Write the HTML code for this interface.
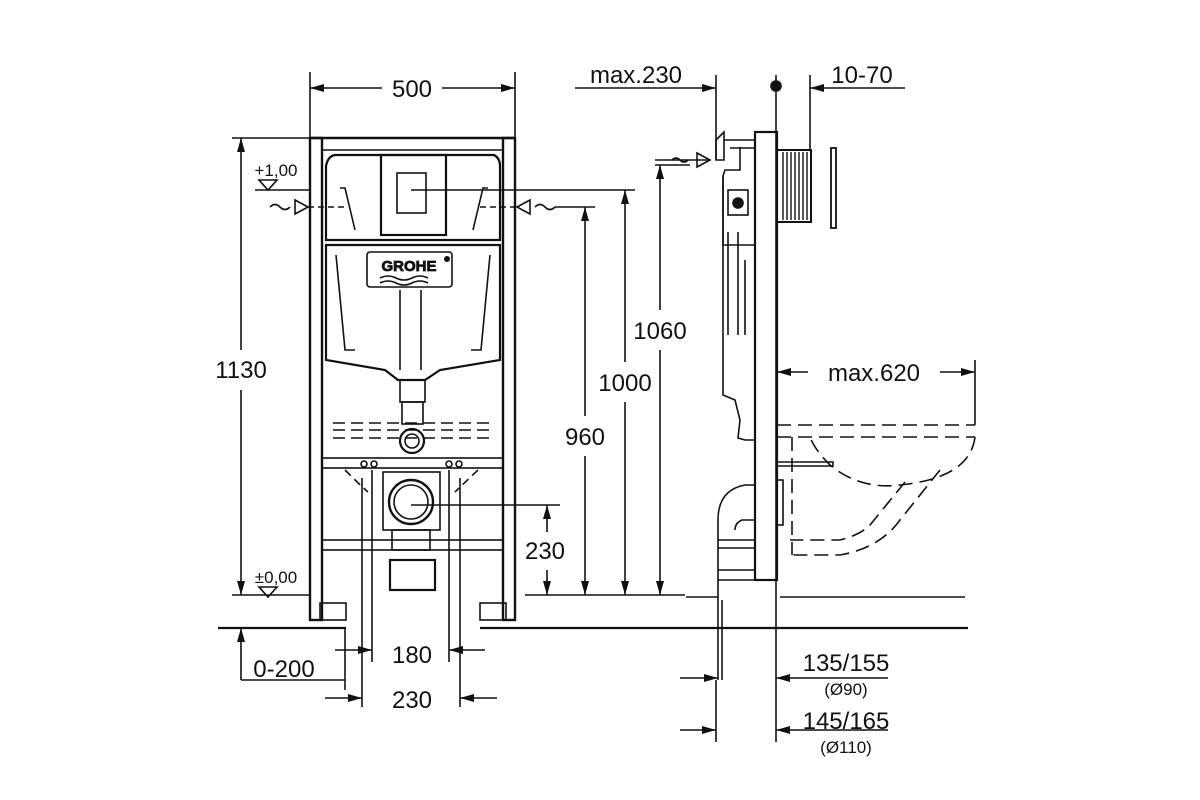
<!DOCTYPE html>
<html><head><meta charset="utf-8"><style>
html,body{margin:0;padding:0;background:#fff}
svg{display:block}
text{font-family:"Liberation Sans",Arial,sans-serif;fill:#111}
</style></head><body>
<svg width="1200" height="800" viewBox="0 0 1200 800" xmlns="http://www.w3.org/2000/svg">
<defs>
<marker id="a" viewBox="0 0 10 10" refX="10" refY="5" markerWidth="14" markerHeight="8" orient="auto-start-reverse" markerUnits="userSpaceOnUse" preserveAspectRatio="none"><path d="M0,0 L10,5 L0,10 z" fill="#111"/></marker>
</defs>
<g stroke="#111" fill="none" stroke-width="1.6">
<rect x="310" y="138" width="12" height="482" stroke-width="2.4"/>
<rect x="503" y="138" width="12" height="482" stroke-width="2.4"/>
<line x1="310" y1="138" x2="515" y2="138" stroke-width="2.4"/>
<line x1="322" y1="150" x2="503" y2="150"/>
<rect x="322" y="458" width="181" height="10"/>
<rect x="322" y="540" width="181" height="10"/>
<rect x="320" y="603" width="26" height="17"/>
<rect x="480" y="603" width="26" height="17"/>
<path d="M335,155 L494,155 Q500,158 500,166 L500,240 L326,240 L326,166 Q328,156 335,155 Z" stroke-width="2.2"/>
<path d="M326,245 L500,245 L500,360 L440,370 L425,380 L398,380 L385,370 L326,360 Z" stroke-width="2.2"/>
<path d="M340,188 L345,188 L355,230 M488,188 L483,188 L473,230"/>
<path d="M336,255 L345,350 L355,350 M490,255 L481,350 L471,350"/>
<path d="M400,290 L400,370 M421,290 L421,370"/>
<rect x="381" y="155" width="65" height="80" stroke-width="2.2"/>
<rect x="397" y="173" width="29" height="40"/>
<line x1="411" y1="190" x2="635" y2="190"/>
<rect x="367" y="252" width="85" height="35" rx="3"/>
<path d="M380,278 q8,-4 16,0 t16,0 t16,0 M380,283 q8,-4 16,0 t16,0 t16,0"/>
<rect x="400" y="380" width="25" height="22"/>
<rect x="402" y="402" width="21" height="22"/>
<circle cx="412" cy="441" r="12" stroke-width="2.2"/>
<circle cx="412" cy="441" r="7"/>
<path d="M333,430 L490,430 M333,438 L490,438 M333,423 L490,423" stroke-dasharray="12,6"/>
<rect x="383" y="472" width="57" height="58"/>
<circle cx="411" cy="502" r="22" stroke-width="2.4"/>
<circle cx="411" cy="502" r="17"/>
<rect x="392" y="530" width="38" height="20"/>
<rect x="390" y="560" width="45" height="30" stroke-width="2.2"/>
<path d="M345,470 Q360,485 368,492 M478,470 Q462,485 455,492" stroke-dasharray="8,5"/>
<circle cx="364" cy="464" r="3"/><circle cx="374" cy="464" r="3"/><circle cx="449" cy="464" r="3"/><circle cx="459" cy="464" r="3"/>
<line x1="310" y1="72" x2="310" y2="137"/><line x1="515" y1="72" x2="515" y2="137"/>
<line x1="310" y1="88" x2="382" y2="88" marker-start="url(#a)"/><line x1="442" y1="88" x2="515" y2="88" marker-end="url(#a)"/>
<line x1="232" y1="138" x2="310" y2="138"/><line x1="232" y1="595" x2="310" y2="595"/>
<line x1="241" y1="138" x2="241" y2="350" marker-start="url(#a)"/><line x1="241" y1="390" x2="241" y2="595" marker-end="url(#a)"/>
<line x1="255" y1="190" x2="310" y2="190"/>
<path d="M259,180 L277,180 L268,190 Z"/>
<path d="M259,587 L277,587 L268,597 Z"/>
<path d="M270,207 q5,-5 10,0 t10,0 M295,200 L308,207 L295,214 Z"/>
<line x1="308" y1="207" x2="345" y2="207" stroke-dasharray="6,4"/>
<path d="M555,207 q-5,5 -10,0 t-10,0 M530,200 L517,207 L530,214 Z"/>
<line x1="480" y1="207" x2="515" y2="207" stroke-dasharray="6,4"/>
<line x1="555" y1="207" x2="595" y2="207"/>
<line x1="655" y1="165" x2="690" y2="165"/>
<line x1="660" y1="165" x2="660" y2="310" marker-start="url(#a)"/><line x1="660" y1="350" x2="660" y2="595" marker-end="url(#a)"/>
<line x1="625" y1="190" x2="625" y2="362" marker-start="url(#a)"/><line x1="625" y1="402" x2="625" y2="595" marker-end="url(#a)"/>
<line x1="585" y1="207" x2="585" y2="416" marker-start="url(#a)"/><line x1="585" y1="456" x2="585" y2="595" marker-end="url(#a)"/>
<line x1="411" y1="505" x2="560" y2="505"/>
<line x1="547" y1="505" x2="547" y2="532" marker-start="url(#a)"/><line x1="547" y1="570" x2="547" y2="595" marker-end="url(#a)"/>
<line x1="525" y1="595" x2="685" y2="595"/>
<line x1="218" y1="628" x2="346" y2="628" stroke-width="2.2"/>
<line x1="480" y1="628" x2="968" y2="628" stroke-width="2.2"/>
<line x1="372" y1="470" x2="372" y2="662"/><line x1="449" y1="470" x2="449" y2="662"/>
<line x1="362" y1="478" x2="362" y2="707"/><line x1="460" y1="478" x2="460" y2="707"/>
<line x1="335" y1="650" x2="372" y2="650" marker-end="url(#a)"/><line x1="449" y1="650" x2="485" y2="650" marker-start="url(#a)"/>
<line x1="325" y1="698" x2="362" y2="698" marker-end="url(#a)"/><line x1="460" y1="698" x2="497" y2="698" marker-start="url(#a)"/>
<line x1="241" y1="680" x2="241" y2="628" marker-end="url(#a)"/>
<line x1="241" y1="680" x2="345" y2="680"/>
<line x1="345" y1="628" x2="345" y2="690"/>
<rect x="755" y="132" width="22" height="448" stroke-width="2.2"/>
<line x1="776" y1="75" x2="776" y2="742"/>
<circle cx="776" cy="86" r="5" fill="#111"/>
<line x1="716" y1="75" x2="716" y2="160"/>
<line x1="575" y1="88" x2="716" y2="88" marker-end="url(#a)"/>
<line x1="810" y1="75" x2="810" y2="150"/>
<line x1="810" y1="88" x2="905" y2="88" marker-start="url(#a)"/>
<rect x="777" y="150" width="34" height="72" stroke-width="2"/>
<path d="M783,152 V220 M787,152 V220 M791,152 V220 M795,152 V220 M799,152 V220 M803,152 V220 M807,152 V220" stroke-width="1.4"/>
<rect x="831" y="148" width="5" height="80" stroke-width="1.8"/>
<path d="M716,140 L724,132 L724,160 L716,160 Z"/>
<path d="M724,140 L755,140 M730,148 L755,148"/>
<path d="M740,147 L740,170 L725,170 L723,176 L723,245 L755,245"/>
<path d="M723,176 L723,395 L735,400 L740,420 L738,438 L745,440 L755,440"/>
<rect x="728" y="190" width="20" height="25"/><circle cx="738" cy="203" r="5" fill="#111"/>
<path d="M728,232 V335 M738,232 V335 M745,260 V335"/>
<line x1="655" y1="160" x2="710" y2="160"/>
<path d="M672,160 q4,-4 8,0 t8,0 M697,153 L710,160 L697,167 Z"/>
<path d="M755,485 L745,485 Q718,490 718,520 L718,600 M755,520 L742,520 Q735,523 735,530"/>
<path d="M718,540 H755 M718,548 H755 M718,570 H755 M718,580 H755"/>
<line x1="718" y1="600" x2="718" y2="680"/>
<line x1="722" y1="600" x2="722" y2="680"/>
<rect x="777" y="480" width="6" height="45"/>
<line x1="777" y1="372" x2="808" y2="372" marker-start="url(#a)"/><line x1="940" y1="372" x2="975" y2="372" marker-end="url(#a)"/>
<line x1="975" y1="360" x2="975" y2="425"/>
<g stroke-dasharray="14,7">
<line x1="777" y1="425" x2="975" y2="425"/>
<line x1="777" y1="437" x2="975" y2="437"/>
<path d="M975,437 Q970,478 900,485 Q860,490 830,465 Q815,450 810,437"/>
<path d="M905,482 L870,525 Q860,535 840,540 L790,540"/>
<path d="M940,470 L900,520 Q880,548 840,555 L790,555"/>
<line x1="792" y1="437" x2="792" y2="555"/>
</g>
<path d="M777,462 L833,462 L833,466 L777,466"/>
<line x1="780" y1="597" x2="965" y2="597"/>
<line x1="686" y1="597" x2="718" y2="597"/>
<line x1="716" y1="680" x2="716" y2="742"/>
<line x1="680" y1="678" x2="718" y2="678" marker-end="url(#a)"/>
<line x1="776" y1="678" x2="888" y2="678" marker-start="url(#a)"/>
<line x1="680" y1="730" x2="716" y2="730" marker-end="url(#a)"/>
<line x1="776" y1="730" x2="888" y2="730" marker-start="url(#a)"/>
</g>
<g font-size="24" text-anchor="middle">
<text x="412" y="97">500</text>
<text x="241" y="378">1130</text>
<text x="660" y="339">1060</text>
<text x="625" y="391">1000</text>
<text x="585" y="445">960</text>
<text x="545" y="559">230</text>
<text x="412" y="663">180</text>
<text x="412" y="708">230</text>
<text x="284" y="677">0-200</text>
<text x="636" y="83">max.230</text>
<text x="862" y="83">10-70</text>
<text x="874" y="381">max.620</text>
<text x="846" y="671">135/155</text>
<text x="846" y="729">145/165</text>
</g>
<g font-size="17" text-anchor="middle">
<text x="276" y="176">+1,00</text>
<text x="276" y="583">±0,00</text>
<text x="846" y="695">(Ø90)</text>
<text x="846" y="753">(Ø110)</text>
</g>
<text x="409" y="271" font-size="15" font-weight="bold" text-anchor="middle" fill="none" stroke="#111" stroke-width="0.8">GROHE</text>
<circle cx="447" cy="259" r="3" fill="#111"/>
</svg>
</body></html>
